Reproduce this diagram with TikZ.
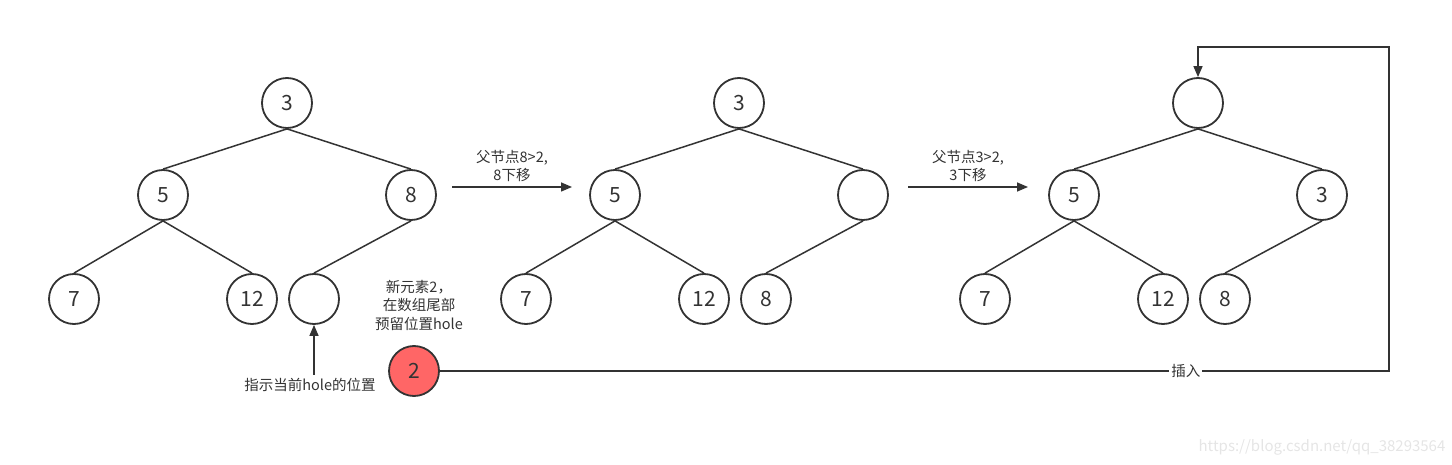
\documentclass[tikz,border=0pt]{standalone}
\usepackage{fontspec}
\setmainfont{Noto Sans CJK SC}
\usetikzlibrary{arrows.meta}
\definecolor{linegray}{HTML}{333333}
\definecolor{newred}{HTML}{FF6666}
\begin{document}
\begin{tikzpicture}[
  x=1pt, y=1pt,
  every node/.style={font=\fontsize{14.5}{18.5}\selectfont, text=linegray},
  heapnode/.style={circle, draw=linegray, line width=1.8pt, minimum size=50pt,
    inner sep=0pt, font=\fontsize{21}{24}\selectfont},
  every child node/.style={heapnode},
  level 1/.style={level distance=92pt, sibling distance=248pt},
  level 2/.style={level distance=104pt, sibling distance=178pt},
  parent anchor=south, child anchor=north,
  edge from parent/.style={draw=linegray, line width=1.5pt},
  arr/.style={draw=linegray, line width=1.5pt, -{Triangle[length=11pt,width=9pt]}}
]
\useasboundingbox (0,0) rectangle (1452,-465);
% before: hole at the end of the array
\node[heapnode] (a3) at (287,-103) {3}
  child {node (a5) {5}
    child {node (a7) {7}}
    child {node (a12) {12}}
  }
  child {node (a8) {8}
    child {node[xshift=-8pt] (ahole) {}}
    child[missing]
  };
% 8 moved down
\node[heapnode] (b3) at (739,-103) {3}
  child {node (b5) {5}
    child {node (b7) {7}}
    child {node (b12) {12}}
  }
  child {node (bhole) {}
    child {node[xshift=-8pt] (b8) {8}}
    child[missing]
  };
% 3 moved down
\node[heapnode] (chole) at (1198,-103) {}
  child {node (c5) {5}
    child {node (c7) {7}}
    child {node (c12) {12}}
  }
  child {node (c3) {3}
    child {node[xshift=-8pt] (c8) {8}}
    child[missing]
  };

\coordinate (s1) at (452,-187);
\coordinate (e1) at (572,-187);
\draw[arr] (s1) -- node[above, align=center, yshift=1pt] {父节点8>2,\\8下移} (e1);
\coordinate (s2) at (908,-187);
\coordinate (e2) at (1028,-187);
\draw[arr] (s2) -- node[above, align=center, yshift=1pt] {父节点3>2,\\3下移} (e2);

% new element
\node[heapnode, fill=newred] (new) at (414,-371) {2};
\node[align=center] (newtxt) at (419,-305) {新元素2，\\在数组尾部\\预留位置hole};
\node (ptrtxt) at (310,-385) {指示当前hole的位置};
\draw[arr] (ptrtxt.north -| ahole.south) -- (ahole.south);

\coordinate (corner1) at (1389,-371);
\coordinate (corner2) at (1389,-47);
\draw[arr] (new.east) -- node[pos=0.786, fill=white, inner sep=2pt] {插入} (corner1)
  -- (corner2) -- (corner2 -| chole) -- (chole.north);

\node[text=black!10, font=\fontsize{15}{16}\selectfont] (mark) at (1322,-447) {https://blog.csdn.net/qq\_38293564};
\end{tikzpicture}
\end{document}
